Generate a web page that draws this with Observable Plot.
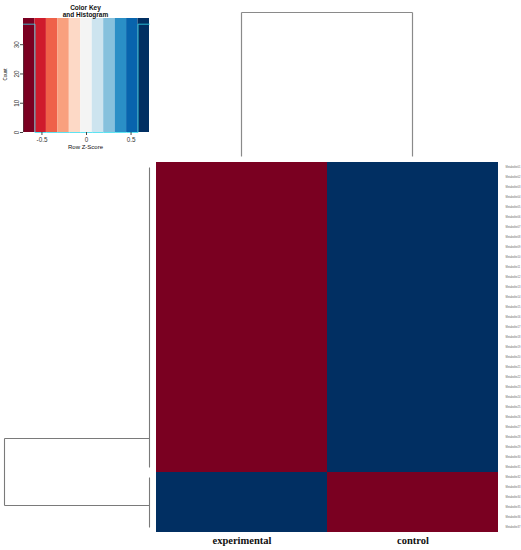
<!DOCTYPE html>
<html><head><meta charset="utf-8">
<script src="https://cdn.jsdelivr.net/npm/d3@7"></script>
<script src="https://cdn.jsdelivr.net/npm/@observablehq/plot@0.6"></script>
<style>
body{margin:0;background:#fff;}
#chart{position:relative;width:521px;height:550px;overflow:hidden;background:#fff;font-family:"Liberation Sans",Arial,sans-serif;}
#chart > svg, #chart > div{position:absolute;}
.t{position:absolute;white-space:nowrap;color:#111;}
</style></head><body><div id="chart"></div>
<script>
// ---- data ----
const columns = ["experimental", "control"];
const rowNames = [
  "Metabolite01","Metabolite02","Metabolite03","Metabolite04","Metabolite05","Metabolite06","Metabolite07","Metabolite08",
  "Metabolite09","Metabolite10","Metabolite11","Metabolite12","Metabolite13","Metabolite14","Metabolite15","Metabolite16",
  "Metabolite17","Metabolite18","Metabolite19","Metabolite20","Metabolite21","Metabolite22","Metabolite23","Metabolite24",
  "Metabolite25","Metabolite26","Metabolite27","Metabolite28","Metabolite29","Metabolite30","Metabolite31",
  "Metabolite32","Metabolite33","Metabolite34","Metabolite35","Metabolite36","Metabolite37"
];
const experimental = [
  -0.7071,-0.7071,-0.7071,-0.7071,-0.7071,-0.7071,-0.7071,-0.7071,-0.7071,-0.7071,
  -0.7071,-0.7071,-0.7071,-0.7071,-0.7071,-0.7071,-0.7071,-0.7071,-0.7071,-0.7071,
  -0.7071,-0.7071,-0.7071,-0.7071,-0.7071,-0.7071,-0.7071,-0.7071,-0.7071,-0.7071,
  -0.7071,
  0.7071,0.7071,0.7071,0.7071,0.7071,0.7071
];
const control = [
  0.7071,0.7071,0.7071,0.7071,0.7071,0.7071,0.7071,0.7071,0.7071,0.7071,
  0.7071,0.7071,0.7071,0.7071,0.7071,0.7071,0.7071,0.7071,0.7071,0.7071,
  0.7071,0.7071,0.7071,0.7071,0.7071,0.7071,0.7071,0.7071,0.7071,0.7071,
  0.7071,
  -0.7071,-0.7071,-0.7071,-0.7071,-0.7071,-0.7071
];
const keyColors = ["#7a0021","#cf1b2c","#ef6149","#f9a07e","#fdd9c6","#f4f4f4","#cde4ef","#86c1dd","#2a8fc6","#0864ad","#012f62"];
const keyTicks = [-0.5, 0, 0.5];
const keyTickLabels = ["-0.5", "0", "0.5"];
const countTicks = [0, 10, 20, 30];
// row dendrogram: two clusters joined at the top height, leaves merged at height 0
const rowClusters = [
  {first: 0, last: 30, mid: 27.1},
  {first: 31, last: 36, mid: 33.8}
];
const rowTopHeight = 1;
const colTopHeight = 1;

// ---- derived ----
const cells = rowNames.flatMap((r, i) => [
  {row: r, col: "experimental", z: experimental[i]},
  {row: r, col: "control", z: control[i]}
]);
const allZ = cells.map(d => d.z);
const zmax = d3.max(allZ, Math.abs);
const nb = keyColors.length;
const breaks = d3.range(nb + 1).map(i => -zmax + i * 2 * zmax / nb);
const colorScale = {type: "threshold", domain: breaks.slice(1, -1), range: keyColors};
const bins = d3.bin().domain([-zmax, zmax]).thresholds(breaks.slice(1, -1))(allZ);
const counts = bins.map(b => b.length);
const maxCount = d3.max(counts);
const histLine = breaks.map((b, i) => ({x: b, y: counts[Math.min(i, counts.length - 1)]}));
const bands = keyColors.map((c, i) => ({x1: breaks[i], x2: breaks[i + 1], c}));

const chart = document.getElementById("chart");
const place = (el, left, top) => { el.style.left = left + "px"; el.style.top = top + "px"; chart.appendChild(el); };

// ---- heatmap ----
const heat = Plot.plot({
  width: 521, height: 550,
  marginLeft: 155, marginRight: 23, marginTop: 162, marginBottom: 18,
  style: {background: "white", fontFamily: "Liberation Sans, Arial, sans-serif"},
  x: {domain: columns, padding: 0, label: null},
  y: {domain: rowNames, padding: 0, label: null},
  color: colorScale,
  marks: [
    Plot.cell(cells, {x: "col", y: "row", fill: "z", inset: 0}),
    Plot.axisX({anchor: "bottom", tickSize: 0, tickPadding: 4, fontSize: 10.5, fontWeight: "bold",
      fontFamily: "Liberation Serif, serif", label: null, fill: "#111"}),
    Plot.axisY({anchor: "right", tickSize: 0, tickPadding: 7, fontSize: 2.6, label: null, fill: "#666"})
  ]
});
place(heat, 0, 0);

// ---- column dendrogram ----
const colLinks = [
  {x1: columns[0], y1: 0, x2: columns[0], y2: colTopHeight},
  {x1: columns[1], y1: 0, x2: columns[1], y2: colTopHeight},
  {x1: columns[0], y1: colTopHeight, x2: columns[1], y2: colTopHeight}
];
const colDend = Plot.plot({
  width: 521, height: 162,
  marginLeft: 155, marginRight: 23, marginTop: 12, marginBottom: 6,
  style: {background: "transparent"},
  x: {type: "point", domain: columns, padding: 0.5, axis: null},
  y: {domain: [0, colTopHeight], axis: null},
  marks: [Plot.link(colLinks, {x1: "x1", y1: "y1", x2: "x2", y2: "y2", stroke: "#8a8a8a", strokeWidth: 1.2})]
});
place(colDend, 0, 0);

// ---- row dendrogram ----
const rowLinks = [
  ...rowClusters.map(c => ({x1: rowTopHeight, y1: c.mid, x2: 0, y2: c.mid})),
  {x1: rowTopHeight, y1: rowClusters[0].mid, x2: rowTopHeight, y2: rowClusters[1].mid},
  ...rowClusters.map(c => ({x1: 0, y1: c.first, x2: 0, y2: c.last}))
];
const rowDend = Plot.plot({
  width: 155, height: 550,
  marginLeft: 4, marginRight: 6, marginTop: 162, marginBottom: 18,
  style: {background: "transparent"},
  x: {domain: [rowTopHeight, 0], axis: null},
  y: {domain: [-0.5, rowNames.length - 0.5], reverse: true, axis: null},
  marks: [Plot.link(rowLinks, {x1: "x1", y1: "y1", x2: "x2", y2: "y2", stroke: "#7a7a7a", strokeWidth: 1.1})]
});
place(rowDend, 0, 0);

// ---- color key ----
const key = Plot.plot({
  width: 160, height: 152,
  marginLeft: 23, marginRight: 11, marginTop: 18, marginBottom: 20,
  style: {background: "transparent", fontFamily: "Liberation Sans, Arial, sans-serif"},
  x: {domain: [-zmax, zmax]},
  y: {domain: [0, maxCount / 0.95]},
  marks: [
    Plot.rect(bands, {x1: "x1", x2: "x2", fill: "c"}),
    Plot.line(histLine, {x: "x", y: "y", curve: "step-after", stroke: "#33dcef", strokeWidth: 0.8}),
    Plot.ruleX([-zmax], {y1: countTicks[0], y2: countTicks[countTicks.length - 1], stroke: "#444", strokeWidth: 0.6}),
    Plot.axisX({ticks: keyTicks, tickFormat: (d, i) => keyTickLabels[i], tickSize: 3, tickPadding: 2, fontSize: 6.3,
      label: null, stroke: "#444", fill: "#333"}),
    Plot.axisY({ticks: countTicks, tickFormat: d => String(d), tickSize: 3, tickPadding: 2, fontSize: 6.3, tickRotate: -90,
      label: null, stroke: "#444", fill: "#333"})
  ]
});
place(key, 0, 0);

// ---- key texts ----
function addText(txt, left, top, css) {
  const d = document.createElement("div");
  d.className = "t"; d.textContent = txt;
  d.style.cssText += css;
  place(d, left, top);
  return d;
}
addText("Color Key", 0, 4, "font-size:6.5px;font-weight:bold;width:171px;text-align:center;");
addText("and Histogram", 0, 11, "font-size:6.5px;font-weight:bold;width:171px;text-align:center;");
addText("Row Z-Score", 0, 143.5, "font-size:6px;width:171px;text-align:center;");
addText("Count", -8, 72, "font-size:4.5px;transform:rotate(-90deg);width:26px;text-align:center;");
</script>
</body></html>
